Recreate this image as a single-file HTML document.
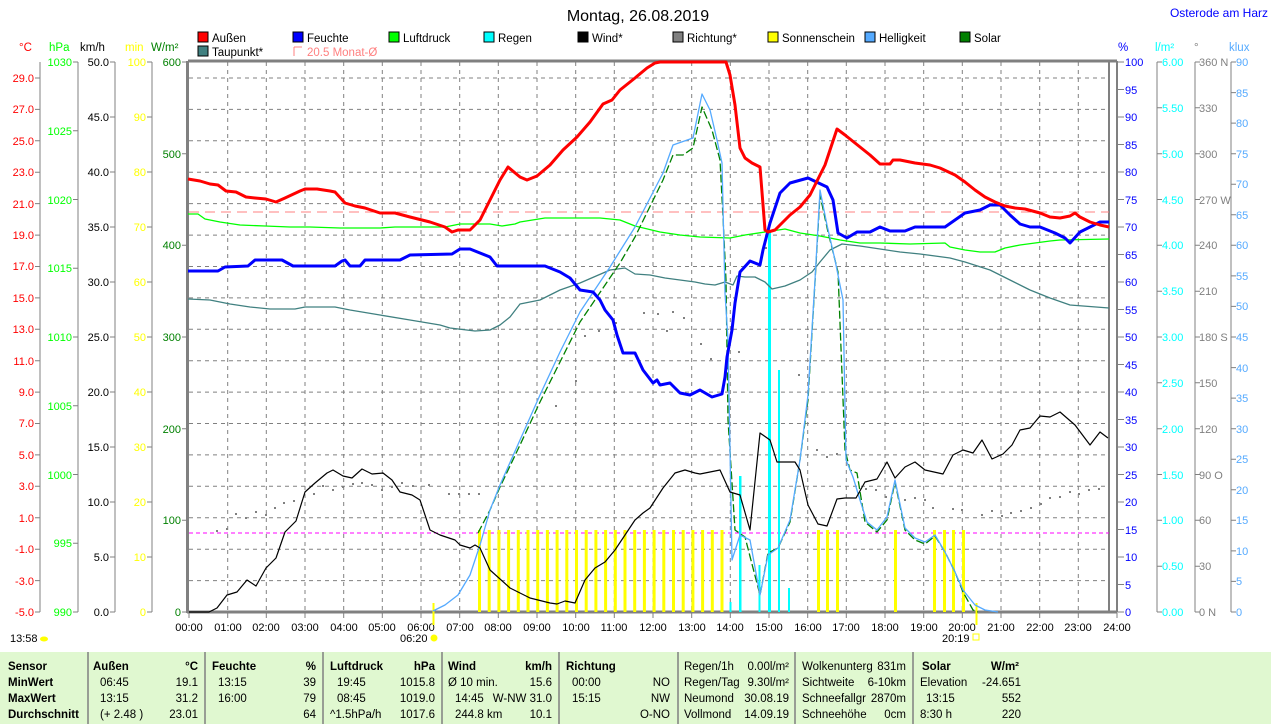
<!DOCTYPE html>
<html><head><meta charset="utf-8"><style>
html,body{margin:0;padding:0;background:#fff;}
svg{display:block;font-family:"Liberation Sans",sans-serif;}
.t{font-size:11px;}
</style></head><body>
<svg width="1274" height="724" viewBox="0 0 1274 724" xmlns="http://www.w3.org/2000/svg">
<text x="638" y="21" font-size="16" text-anchor="middle" fill="#000">Montag, 26.08.2019</text>
<text x="1268" y="17" font-size="12" text-anchor="end" fill="#0000ff">Osterode am Harz</text>

<!-- legend -->
<g font-size="11.5" fill="#000">
<rect x="198" y="32" width="10" height="10" fill="#ff0000" stroke="#000"/><text x="212" y="42">Außen</text>
<rect x="293" y="32" width="10" height="10" fill="#0000ff" stroke="#000"/><text x="307" y="42">Feuchte</text>
<rect x="389" y="32" width="10" height="10" fill="#00ff00" stroke="#000"/><text x="403" y="42">Luftdruck</text>
<rect x="484" y="32" width="10" height="10" fill="#00ffff" stroke="#000"/><text x="498" y="42">Regen</text>
<rect x="578" y="32" width="10" height="10" fill="#000" stroke="#000"/><text x="592" y="42">Wind*</text>
<rect x="673" y="32" width="10" height="10" fill="#808080" stroke="#000"/><text x="687" y="42">Richtung*</text>
<rect x="768" y="32" width="10" height="10" fill="#ffff00" stroke="#000"/><text x="782" y="42">Sonnenschein</text>
<rect x="865" y="32" width="10" height="10" fill="#55aaff" stroke="#000"/><text x="879" y="42">Helligkeit</text>
<rect x="960" y="32" width="10" height="10" fill="#008000" stroke="#000"/><text x="974" y="42">Solar</text>
<rect x="198" y="46" width="10" height="10" fill="#408080" stroke="#000"/><text x="212" y="56">Taupunkt*</text>
<path d="M294 47 V56 M294 47 H302" stroke="#ff8080" fill="none"/><text x="307" y="56" fill="#ff8080">20.5 Monat-Ø</text>
</g>

<!-- unit headers -->
<g font-size="11.5">
<text x="19" y="51" fill="#ff0000">°C</text>
<text x="49" y="51" fill="#00ff00">hPa</text>
<text x="80" y="51" fill="#000">km/h</text>
<text x="125" y="51" fill="#ffff00">min</text>
<text x="151" y="51" fill="#008000">W/m²</text>
<text x="1118" y="51" fill="#0000ff">%</text>
<text x="1155" y="51" fill="#00ffff">l/m²</text>
<text x="1194" y="51" fill="#808080">°</text>
<text x="1229" y="51" fill="#55aaff">klux</text>
</g>

<!-- grid -->
<g stroke="#808080" stroke-dasharray="4,4" stroke-width="1">
<path d="M189 78H1109M189 109.4H1109M189 140.8H1109M189 172.2H1109M189 203.6H1109M189 235.1H1109M189 266.5H1109M189 297.9H1109M189 329.3H1109M189 360.7H1109M189 392.1H1109M189 423.5H1109M189 454.9H1109M189 486.3H1109M189 517.8H1109M189 549.2H1109M189 580.6H1109"/>
<path d="M227.7 62V612M266.3 62V612M305 62V612M343.7 62V612M382.3 62V612M421 62V612M459.7 62V612M498.3 62V612M537 62V612M575.7 62V612M614.3 62V612M653 62V612M691.7 62V612M730.3 62V612M769 62V612M807.7 62V612M846.3 62V612M885 62V612M923.7 62V612M962.3 62V612M1001 62V612M1039.7 62V612M1078.3 62V612"/>
</g>
<!-- frame -->
<g stroke="#808080" fill="none">
<path d="M188 61H1117" stroke-width="3"/>
<path d="M187.5 61V613" stroke-width="3"/>
<path d="M187 612H1117" stroke-width="3"/>
<path d="M1109 61V612" stroke-width="2"/>
<path d="M1117 61V612" stroke-width="2"/>
</g>

<g stroke="#808080" fill="none" stroke-width="1">
<path d="M40 62V612M78 62V612M115 62V612M152 62V612"/>
<path d="M1157 62V612M1195 62V612M1231 62V612"/>
</g>

<g class="t" fill="#ff0000" text-anchor="end">
<text x="34" y="82">29.0</text><text x="34" y="113">27.0</text><text x="34" y="145">25.0</text><text x="34" y="176">23.0</text><text x="34" y="208">21.0</text><text x="34" y="239">19.0</text><text x="34" y="270">17.0</text><text x="34" y="302">15.0</text><text x="34" y="333">13.0</text><text x="34" y="365">11.0</text><text x="34" y="396">9.0</text><text x="34" y="427">7.0</text><text x="34" y="459">5.0</text><text x="34" y="490">3.0</text><text x="34" y="522">1.0</text><text x="34" y="553">-1.0</text><text x="34" y="585">-3.0</text><text x="34" y="616">-5.0</text>
</g>
<g stroke="#808080"><path d="M35 78H40M35 109.4H40M35 140.8H40M35 172.2H40M35 203.6H40M35 235.1H40M35 266.5H40M35 297.9H40M35 329.3H40M35 360.7H40M35 392.1H40M35 423.5H40M35 454.9H40M35 486.3H40M35 517.8H40M35 549.2H40M35 580.6H40M35 612H40"/>
<path d="M73 62H78M73 130.75H78M73 199.5H78M73 268.25H78M73 337H78M73 405.75H78M73 474.5H78M73 543.25H78M73 612H78"/>
<path d="M110 62H115M110 117H115M110 172H115M110 227H115M110 282H115M110 337H115M110 392H115M110 447H115M110 502H115M110 557H115M110 612H115"/>
<path d="M147 62H152M147 117H152M147 172H152M147 227H152M147 282H152M147 337H152M147 392H152M147 447H152M147 502H152M147 557H152M147 612H152"/>
<path d="M182 62H187M182 153.7H187M182 245.3H187M182 337H187M182 428.7H187M182 520.3H187M182 612H187"/>
</g>
<g class="t" fill="#00ff00" text-anchor="end">
<text x="72" y="66">1030</text><text x="72" y="135">1025</text><text x="72" y="204">1020</text><text x="72" y="272">1015</text><text x="72" y="341">1010</text><text x="72" y="410">1005</text><text x="72" y="479">1000</text><text x="72" y="547">995</text><text x="72" y="616">990</text>
</g>
<g class="t" fill="#000" text-anchor="end">
<text x="109" y="66">50.0</text><text x="109" y="121">45.0</text><text x="109" y="176">40.0</text><text x="109" y="231">35.0</text><text x="109" y="286">30.0</text><text x="109" y="341">25.0</text><text x="109" y="396">20.0</text><text x="109" y="451">15.0</text><text x="109" y="506">10.0</text><text x="109" y="561">5.0</text><text x="109" y="616">0.0</text>
</g>
<g class="t" fill="#ffff00" text-anchor="end">
<text x="146" y="66">100</text><text x="146" y="121">90</text><text x="146" y="176">80</text><text x="146" y="231">70</text><text x="146" y="286">60</text><text x="146" y="341">50</text><text x="146" y="396">40</text><text x="146" y="451">30</text><text x="146" y="506">20</text><text x="146" y="561">10</text><text x="146" y="616">0</text>
</g>
<g class="t" fill="#008000" text-anchor="end">
<text x="181" y="66">600</text><text x="181" y="158">500</text><text x="181" y="249">400</text><text x="181" y="341">300</text><text x="181" y="433">200</text><text x="181" y="524">100</text><text x="181" y="616">0</text>
</g>

<g stroke="#808080">
<path d="M1118 62H1124M1118 89.5H1124M1118 117H1124M1118 144.5H1124M1118 172H1124M1118 199.5H1124M1118 227H1124M1118 254.5H1124M1118 282H1124M1118 309.5H1124M1118 337H1124M1118 364.5H1124M1118 392H1124M1118 419.5H1124M1118 447H1124M1118 474.5H1124M1118 502H1124M1118 529.5H1124M1118 557H1124M1118 584.5H1124M1118 612H1124"/>
<path d="M1157 62H1162M1157 107.8H1162M1157 153.7H1162M1157 199.5H1162M1157 245.3H1162M1157 291.2H1162M1157 337H1162M1157 382.8H1162M1157 428.7H1162M1157 474.5H1162M1157 520.3H1162M1157 566.2H1162M1157 612H1162"/>
<path d="M1195 62H1200M1195 107.8H1200M1195 153.7H1200M1195 199.5H1200M1195 245.3H1200M1195 291.2H1200M1195 337H1200M1195 382.8H1200M1195 428.7H1200M1195 474.5H1200M1195 520.3H1200M1195 566.2H1200M1195 612H1200"/>
<path d="M1231 62H1236M1231 92.6H1236M1231 123.1H1236M1231 153.7H1236M1231 184.2H1236M1231 214.8H1236M1231 245.3H1236M1231 275.9H1236M1231 306.4H1236M1231 337H1236M1231 367.6H1236M1231 398.1H1236M1231 428.7H1236M1231 459.2H1236M1231 489.8H1236M1231 520.3H1236M1231 550.9H1236M1231 581.4H1236M1231 612H1236"/>
</g>
<g class="t" fill="#0000ff">
<text x="1125" y="66">100</text><text x="1125" y="94">95</text><text x="1125" y="121">90</text><text x="1125" y="149">85</text><text x="1125" y="176">80</text><text x="1125" y="204">75</text><text x="1125" y="231">70</text><text x="1125" y="259">65</text><text x="1125" y="286">60</text><text x="1125" y="314">55</text><text x="1125" y="341">50</text><text x="1125" y="369">45</text><text x="1125" y="396">40</text><text x="1125" y="424">35</text><text x="1125" y="451">30</text><text x="1125" y="479">25</text><text x="1125" y="506">20</text><text x="1125" y="534">15</text><text x="1125" y="561">10</text><text x="1125" y="589">5</text><text x="1125" y="616">0</text>
</g>
<g class="t" fill="#00ffff">
<text x="1162" y="66">6.00</text><text x="1162" y="112">5.50</text><text x="1162" y="158">5.00</text><text x="1162" y="204">4.50</text><text x="1162" y="249">4.00</text><text x="1162" y="295">3.50</text><text x="1162" y="341">3.00</text><text x="1162" y="387">2.50</text><text x="1162" y="433">2.00</text><text x="1162" y="479">1.50</text><text x="1162" y="524">1.00</text><text x="1162" y="570">0.50</text><text x="1162" y="616">0.00</text>
</g>
<g class="t" fill="#808080">
<text x="1199" y="66">360 N</text><text x="1199" y="112">330</text><text x="1199" y="158">300</text><text x="1199" y="204">270 W</text><text x="1199" y="249">240</text><text x="1199" y="295">210</text><text x="1199" y="341">180 S</text><text x="1199" y="387">150</text><text x="1199" y="433">120</text><text x="1199" y="479">90 O</text><text x="1199" y="524">60</text><text x="1199" y="570">30</text><text x="1199" y="616">0 N</text>
</g>
<g class="t" fill="#55aaff">
<text x="1236" y="66">90</text><text x="1236" y="97">85</text><text x="1236" y="127">80</text><text x="1236" y="158">75</text><text x="1236" y="188">70</text><text x="1236" y="219">65</text><text x="1236" y="249">60</text><text x="1236" y="280">55</text><text x="1236" y="310">50</text><text x="1236" y="341">45</text><text x="1236" y="372">40</text><text x="1236" y="402">35</text><text x="1236" y="433">30</text><text x="1236" y="463">25</text><text x="1236" y="494">20</text><text x="1236" y="524">15</text><text x="1236" y="555">10</text><text x="1236" y="585">5</text><text x="1236" y="616">0</text>
</g>

<g class="t" fill="#000" text-anchor="middle">
<text x="189" y="631">00:00</text><text x="228" y="631">01:00</text><text x="266" y="631">02:00</text><text x="305" y="631">03:00</text><text x="344" y="631">04:00</text><text x="382" y="631">05:00</text><text x="421" y="631">06:00</text><text x="460" y="631">07:00</text><text x="498" y="631">08:00</text><text x="537" y="631">09:00</text><text x="576" y="631">10:00</text><text x="614" y="631">11:00</text><text x="653" y="631">12:00</text><text x="692" y="631">13:00</text><text x="730" y="631">14:00</text><text x="769" y="631">15:00</text><text x="808" y="631">16:00</text><text x="846" y="631">17:00</text><text x="885" y="631">18:00</text><text x="924" y="631">19:00</text><text x="962" y="631">20:00</text><text x="1001" y="631">21:00</text><text x="1040" y="631">22:00</text><text x="1078" y="631">23:00</text><text x="1117" y="631">24:00</text>
</g>
<g stroke="#808080"><path d="M189 612V618M227.7 612V618M266.3 612V618M305 612V618M343.7 612V618M382.3 612V618M421 612V618M459.7 612V618M498.3 612V618M537 612V618M575.7 612V618M614.3 612V618M653 612V618M691.7 612V618M730.3 612V618M769 612V618M807.7 612V618M846.3 612V618M885 612V618M923.7 612V618M962.3 612V618M1001 612V618M1039.7 612V618M1078.3 612V618M1117 612V618"/></g>
<text x="10" y="642" class="t" fill="#000">13:58</text><ellipse cx="44" cy="639" rx="4" ry="2.5" fill="#ffff00"/>
<text x="400" y="642" class="t" fill="#000">06:20</text><circle cx="434" cy="638" r="3.5" fill="#ffff00"/>
<text x="942" y="642" class="t" fill="#000">20:19</text><rect x="973" y="634" width="6" height="6" fill="none" stroke="#ffff00"/>

<path d="M189 533H1109" stroke="#ff00ff" stroke-dasharray="4,3" stroke-width="1"/>
<path d="M189 212H1109" stroke="#ff8080" stroke-dasharray="10,6" stroke-width="1"/>

<g fill="#ffff00">
<rect x="478" y="530" width="3" height="82"/><rect x="487.7" y="530" width="3" height="82"/><rect x="497.4" y="530" width="3" height="82"/><rect x="507.1" y="530" width="3" height="82"/><rect x="516.8" y="530" width="3" height="82"/><rect x="526.5" y="530" width="3" height="82"/><rect x="536.2" y="530" width="3" height="82"/><rect x="545.9" y="530" width="3" height="82"/><rect x="555.6" y="530" width="3" height="82"/><rect x="565.3" y="530" width="3" height="82"/><rect x="575" y="530" width="3" height="82"/><rect x="584.7" y="530" width="3" height="82"/><rect x="594.4" y="530" width="3" height="82"/><rect x="604.1" y="530" width="3" height="82"/><rect x="613.8" y="530" width="3" height="82"/><rect x="623.5" y="530" width="3" height="82"/><rect x="633.2" y="530" width="3" height="82"/><rect x="642.9" y="530" width="3" height="82"/><rect x="652.6" y="530" width="3" height="82"/><rect x="662.3" y="530" width="3" height="82"/><rect x="672" y="530" width="3" height="82"/><rect x="681.7" y="530" width="3" height="82"/><rect x="691.4" y="530" width="3" height="82"/><rect x="701.1" y="530" width="3" height="82"/><rect x="710.8" y="530" width="3" height="82"/><rect x="720.5" y="530" width="3" height="82"/>
<rect x="817" y="530" width="3" height="82"/><rect x="826" y="530" width="3" height="82"/><rect x="836" y="530" width="3" height="82"/><rect x="894" y="530" width="3" height="82"/><rect x="933" y="530" width="3" height="82"/><rect x="943" y="530" width="3" height="82"/><rect x="952" y="530" width="3" height="82"/><rect x="962" y="530" width="3" height="82"/>
<rect x="432.5" y="603" width="2" height="22"/><rect x="975.5" y="603" width="2" height="22"/>
</g>
<g fill="#00ffff">
<rect x="729.5" y="602" width="2" height="10"/><rect x="739" y="476" width="2.5" height="136"/><rect x="758.5" y="565" width="2" height="47"/><rect x="768" y="230" width="3" height="382"/><rect x="778" y="370" width="2" height="242"/><rect x="788" y="588" width="2" height="24"/>
</g>

<g fill="#808080">
<rect x="216" y="530" width="2" height="2"/><rect x="226" y="528" width="2" height="2"/><rect x="235" y="513" width="2" height="2"/><rect x="245" y="517" width="2" height="2"/><rect x="255" y="511" width="2" height="2"/><rect x="265" y="514" width="2" height="2"/><rect x="274" y="507" width="2" height="2"/><rect x="283" y="502" width="2" height="2"/><rect x="293" y="500" width="2" height="2"/><rect x="313" y="493" width="2" height="2"/><rect x="322" y="485" width="2" height="2"/><rect x="332" y="489" width="2" height="2"/><rect x="342" y="486" width="2" height="2"/><rect x="352" y="483" width="2" height="2"/><rect x="361" y="482" width="2" height="2"/><rect x="371" y="484" width="2" height="2"/><rect x="381" y="489" width="2" height="2"/><rect x="391" y="486" width="2" height="2"/><rect x="401" y="482" width="2" height="2"/><rect x="412" y="485" width="2" height="2"/><rect x="428" y="484" width="2" height="2"/><rect x="448" y="493" width="2" height="2"/><rect x="458" y="493" width="2" height="2"/><rect x="468" y="493" width="2" height="2"/><rect x="478" y="493" width="2" height="2"/><rect x="555" y="405" width="2" height="2"/><rect x="575" y="380" width="2" height="2"/><rect x="584" y="335" width="2" height="2"/><rect x="598" y="330" width="2" height="2"/><rect x="615" y="322" width="2" height="2"/><rect x="643" y="312" width="2" height="2"/><rect x="657" y="313" width="2" height="2"/><rect x="666" y="330" width="2" height="2"/><rect x="672" y="311" width="2" height="2"/><rect x="683" y="317" width="2" height="2"/><rect x="700" y="343" width="2" height="2"/><rect x="710" y="358" width="2" height="2"/><rect x="738" y="351" width="2" height="2"/><rect x="765" y="247" width="2" height="2"/><rect x="798" y="374" width="2" height="2"/><rect x="816" y="449" width="2" height="2"/><rect x="826" y="456" width="2" height="2"/><rect x="836" y="453" width="2" height="2"/><rect x="865" y="488" width="2" height="2"/><rect x="875" y="489" width="2" height="2"/><rect x="885" y="496" width="2" height="2"/><rect x="904" y="499" width="2" height="2"/><rect x="914" y="497" width="2" height="2"/><rect x="924" y="499" width="2" height="2"/><rect x="932" y="507" width="2" height="2"/><rect x="952" y="508" width="2" height="2"/><rect x="961" y="509" width="2" height="2"/><rect x="981" y="514" width="2" height="2"/><rect x="991" y="510" width="2" height="2"/><rect x="1001" y="515" width="2" height="2"/><rect x="1010" y="512" width="2" height="2"/><rect x="1020" y="510" width="2" height="2"/><rect x="1030" y="507" width="2" height="2"/><rect x="1040" y="503" width="2" height="2"/><rect x="1049" y="497" width="2" height="2"/><rect x="1059" y="496" width="2" height="2"/><rect x="1069" y="491" width="2" height="2"/><rect x="1078" y="493" width="2" height="2"/><rect x="1088" y="489" width="2" height="2"/><rect x="1098" y="488" width="2" height="2"/>
</g>

<g fill="none" stroke-linejoin="round">
<polyline stroke="#408080" stroke-width="1.3" points="188,299 210,300 230,304 250,307 270,309 295,309 305,307 335,307 350,310 380,315 410,320 440,325 450,328 475,331 490,330 500,325 510,317 520,304 540,300 560,290 580,283 610,270 625,268 635,274 650,275 665,278 680,280 695,282 705,284 715,285 725,282 733,285 737,276 745,277 755,277 765,282 772,289 785,286 800,280 812,272 820,262 830,250 842,244 860,246 880,249 900,252 920,254 950,258 965,262 990,270 1010,280 1030,290 1050,298 1070,305 1109,308"/>
<polyline stroke="#00ff00" stroke-width="1.3" points="188,214 198,214 205,219 220,222 240,225 265,226 290,227 310,227 340,228 380,228 395,227 445,227 460,224 490,224 502,226 515,224 520,222 545,218 600,218 620,220 635,226 660,232 680,235 700,237 730,238 745,235 765,232 785,229 800,233 820,236 840,240 860,243 880,243 910,244 945,243 950,247 965,250 980,252 995,252 1005,248 1020,245 1050,241 1060,240 1109,239"/>
<!-- Solar (dashed, below) -->
<polyline stroke="#008000" stroke-width="1.3" stroke-dasharray="8,3" points="478,533 490,510 500,487 520,445 540,402 560,362 580,322 620,263 635,237 663,180 673,155 683,155 693,148 702,107 712,130 720,160 723,217 726,280 728,420 735,530 745,537 760,595 768,553 778,548 790,522 800,460 808,400 815,282 820,195 828,232 838,272 845,450 850,470 857,473 865,522 877,532 887,520 895,482 905,530 915,540 925,544 935,536 945,552 955,572 963,592 973,610 978,612"/>
<!-- Helligkeit (on top) -->
<polyline stroke="#55aaff" stroke-width="1.3" points="433,611 445,605 458,595 470,575 480,545 490,510 500,485 520,440 540,395 560,352 580,312 610,267 635,227 663,173 673,145 693,138 702,94 710,110 717,140 722,163 725,293 728,340 732,560 740,535 750,540 760,595 768,555 778,548 790,520 800,460 808,395 815,280 820,190 827,225 835,260 843,300 846,460 853,477 860,500 867,522 877,530 887,517 895,480 905,528 915,538 925,542 935,535 945,552 955,572 963,590 975,605 985,610 998,612"/>
<polyline stroke="#000" stroke-width="1.2" points="189,612 209,612 217,608 227,595 237,592 247,580 256,586 266,568 276,558 285,532 296,521 305,492 315,483 327,473 333,470 343,476 352,478 362,469 372,474 383,473 392,480 400,492 412,495 420,500 430,530 440,535 455,540 460,545 470,548 475,545 480,548 490,570 510,588 530,598 550,603 557,604 565,601 575,603 585,580 595,568 605,562 615,550 625,535 635,520 643,513 650,508 663,488 675,473 685,470 695,473 700,474 720,470 730,492 740,495 750,530 760,433 770,440 777,462 795,462 800,470 808,505 818,524 827,526 837,499 845,498 856,498 865,482 877,479 887,462 895,478 905,467 915,462 925,470 943,474 953,455 963,450 973,453 982,440 992,459 1003,454 1012,445 1020,430 1030,428 1040,416 1050,417 1060,412 1075,425 1090,445 1100,432 1108,438"/>
<polyline stroke="#0000ff" stroke-width="3" points="188,271 218,271 225,267 248,266 255,260 282,260 293,266 335,266 342,261 345,260 350,266 360,266 365,260 400,260 410,255 452,254 460,249 470,249 490,257 497,266 545,266 560,272 570,278 580,290 593,292 600,300 605,310 613,320 617,335 623,353 635,353 643,370 653,383 657,380 660,385 670,383 680,393 690,395 700,390 712,397 722,394 725,377 727,357 732,330 735,303 740,272 750,261 760,265 763,250 770,223 780,193 790,183 808,178 827,187 833,200 838,233 847,238 857,232 870,232 880,227 890,231 905,231 915,227 945,227 955,220 965,213 980,210 990,205 1000,205 1010,215 1020,224 1030,227 1040,227 1055,233 1065,238 1070,243 1080,232 1090,227 1100,222 1109,222"/>
<polyline stroke="#ff0000" stroke-width="3" points="188,179 200,181 210,184 218,185 226,191 236,192 246,197 255,198 266,199 276,202 285,198 300,191 305,189 317,189 330,191 335,192 345,203 355,206 365,208 380,213 395,213 410,217 430,222 445,227 452,232 458,230 470,230 480,220 490,200 500,180 508,167 520,177 527,180 537,176 550,165 563,150 577,137 590,122 603,104 612,100 620,90 635,78 647,68 655,63 660,62 726,62 730,75 735,105 740,148 745,158 752,163 760,167 765,230 768,232 775,230 790,215 800,207 810,195 825,165 837,129 845,135 860,147 870,155 880,164 890,164 893,160 900,160 915,163 930,165 940,168 955,175 965,182 975,190 985,197 995,202 1005,206 1015,208 1025,209 1040,213 1050,217 1060,218 1070,216 1075,213 1080,217 1090,222 1100,225 1109,227"/>
</g>

<rect x="0" y="652" width="1271" height="72" fill="#e0f8d0"/>
<g stroke="#808080" stroke-width="1.5">
<path d="M88 652V724M205 652V724M323 652V724M442 652V724M559 652V724M678 652V724M795 652V724M913 652V724"/>
</g>
<g font-size="11.5" fill="#000">
<g font-weight="bold">
<text x="8" y="670">Sensor</text><text x="8" y="686">MinWert</text><text x="8" y="702">MaxWert</text><text x="8" y="718">Durchschnitt</text>
<text x="93" y="670">Außen</text><text x="198" y="670" text-anchor="end">°C</text>
<text x="212" y="670">Feuchte</text><text x="316" y="670" text-anchor="end">%</text>
<text x="330" y="670">Luftdruck</text><text x="435" y="670" text-anchor="end">hPa</text>
<text x="448" y="670">Wind</text><text x="552" y="670" text-anchor="end">km/h</text>
<text x="566" y="670">Richtung</text>
<text x="922" y="670">Solar</text><text x="1019" y="670" text-anchor="end">W/m²</text>
</g>
<text x="100" y="686">06:45</text><text x="198" y="686" text-anchor="end">19.1</text>
<text x="100" y="702">13:15</text><text x="198" y="702" text-anchor="end">31.2</text>
<text x="100" y="718">(+ 2.48 )</text><text x="198" y="718" text-anchor="end">23.01</text>
<text x="218" y="686">13:15</text><text x="316" y="686" text-anchor="end">39</text>
<text x="218" y="702">16:00</text><text x="316" y="702" text-anchor="end">79</text>
<text x="316" y="718" text-anchor="end">64</text>
<text x="337" y="686">19:45</text><text x="435" y="686" text-anchor="end">1015.8</text>
<text x="337" y="702">08:45</text><text x="435" y="702" text-anchor="end">1019.0</text>
<text x="330" y="718">^1.5hPa/h</text><text x="435" y="718" text-anchor="end">1017.6</text>
<text x="448" y="686">Ø 10 min.</text><text x="552" y="686" text-anchor="end">15.6</text>
<text x="455" y="702">14:45</text><text x="552" y="702" text-anchor="end">W-NW 31.0</text>
<text x="455" y="718">244.8 km</text><text x="552" y="718" text-anchor="end">10.1</text>
<text x="572" y="686">00:00</text><text x="670" y="686" text-anchor="end">NO</text>
<text x="572" y="702">15:15</text><text x="670" y="702" text-anchor="end">NW</text>
<text x="670" y="718" text-anchor="end">O-NO</text>
<text x="684" y="670">Regen/1h</text><text x="789" y="670" text-anchor="end">0.00l/m²</text>
<text x="684" y="686">Regen/Tag</text><text x="789" y="686" text-anchor="end">9.30l/m²</text>
<text x="684" y="702">Neumond</text><text x="789" y="702" text-anchor="end">30.08.19</text>
<text x="684" y="718">Vollmond</text><text x="789" y="718" text-anchor="end">14.09.19</text>
<text x="802" y="670">Wolkenunterg</text><text x="906" y="670" text-anchor="end">831m</text>
<text x="802" y="686">Sichtweite</text><text x="906" y="686" text-anchor="end">6-10km</text>
<text x="802" y="702">Schneefallgr</text><text x="906" y="702" text-anchor="end">2870m</text>
<text x="802" y="718">Schneehöhe</text><text x="906" y="718" text-anchor="end">0cm</text>
<text x="920" y="686">Elevation</text><text x="1021" y="686" text-anchor="end">-24.651</text>
<text x="926" y="702">13:15</text><text x="1021" y="702" text-anchor="end">552</text>
<text x="920" y="718">8:30 h</text><text x="1021" y="718" text-anchor="end">220</text>
</g>
</svg>
</body></html>
